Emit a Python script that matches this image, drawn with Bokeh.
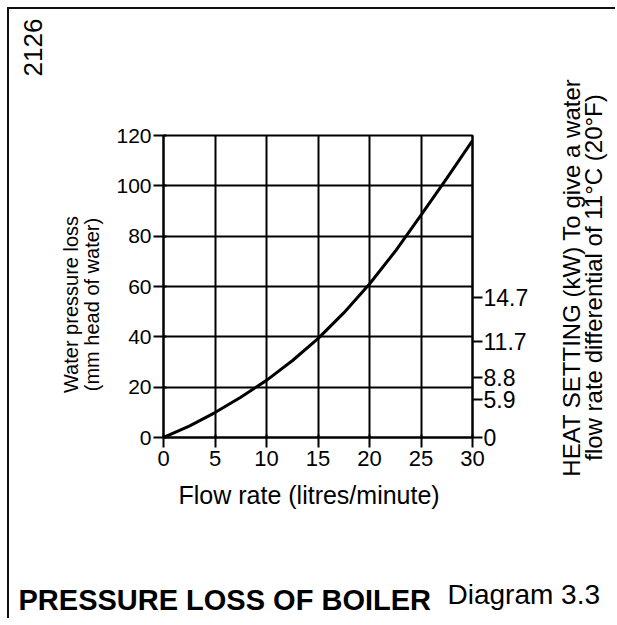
import math
from bokeh.plotting import figure
from bokeh.models import LinearAxis, FixedTicker, Label, Range1d
from bokeh.layouts import row, column
from bokeh.embed import file_html
from bokeh.resources import INLINE

# ---- data ----
flow = [0, 2.5, 5, 7.5, 10, 12.5, 15, 17.5, 20, 22.5, 25, 27.5, 30]
pressure = [0, 4.5, 9.9, 16, 22.7, 30.5, 39.3, 49.5, 61, 74, 88.4, 103, 118]
x_ticks = [0, 5, 10, 15, 20, 25, 30]
y_ticks = [0, 20, 40, 60, 80, 100, 120]
heat_pos = [0, 15, 24, 38.2, 55.5]
heat_labels = ["0", "5.9", "8.8", "11.7", "14.7"]

FONT = "Liberation Sans"

# ---- main chart ----
p = figure(width=430, height=469, x_range=(0, 30), y_range=(0, 120),
           output_backend="svg", toolbar_location=None, frame_align=False,
           min_border_left=53, min_border_right=68,
           min_border_top=126, min_border_bottom=41)
p.background_fill_color = "white"
p.border_fill_color = "white"
p.outline_line_color = "black"
p.outline_line_width = 2

p.xgrid.ticker = FixedTicker(ticks=x_ticks)
p.ygrid.ticker = FixedTicker(ticks=y_ticks)
for g in (p.xgrid, p.ygrid):
    g.grid_line_color = "black"
    g.grid_line_width = 2
    g.grid_line_alpha = 1.0

xa = p.xaxis[0]
xa.ticker = FixedTicker(ticks=x_ticks)
ya = p.yaxis[0]
ya.ticker = FixedTicker(ticks=y_ticks)
for ax in (xa, ya):
    ax.axis_line_color = "black"
    ax.axis_line_width = 2
    ax.major_tick_line_color = "black"
    ax.major_tick_line_width = 2
    ax.major_tick_out = 10
    ax.major_tick_in = 3
    ax.minor_tick_line_color = None
    ax.major_label_text_font = FONT
    ax.major_label_text_color = "black"
xa.major_label_text_font_size = "22px"
ya.major_label_text_font_size = "21px"
xa.major_label_standoff = 3
ya.major_label_standoff = 2

ra = LinearAxis(ticker=FixedTicker(ticks=heat_pos),
                major_label_overrides={v: l for v, l in zip(heat_pos, heat_labels)})
ra.axis_line_color = "black"
ra.axis_line_width = 2
ra.major_tick_line_color = "black"
ra.major_tick_line_width = 2
ra.major_tick_out = 10
ra.major_tick_in = 0
ra.minor_tick_line_color = None
ra.major_label_text_font = FONT
ra.major_label_text_font_size = "23px"
ra.major_label_text_color = "black"
ra.major_label_standoff = 1
p.add_layout(ra, "right")

p.line(flow, pressure, line_width=3, line_color="black")


# ---- text panels around the chart ----
def panel(w, h):
    f = figure(width=w, height=h, x_range=Range1d(0, w), y_range=Range1d(0, h),
               output_backend="svg", toolbar_location=None, frame_align=False,
               x_axis_location=None, y_axis_location=None, min_border=0)
    f.grid.visible = False
    f.outline_line_color = None
    f.background_fill_color = "white"
    f.border_fill_color = "white"
    return f


def lab(f, text, x, y, size, angle=0.0, align="center", baseline="middle", style="normal", lh=1.2):
    f.add_layout(Label(text=text, x=x, y=y, angle=angle, text_align=align,
                       text_baseline=baseline, text_font=FONT, text_font_size=size,
                       text_font_style=style, text_color="black", text_line_height=lh))


left = panel(101, 469)
lab(left, "2126", 23, 431, "26px", angle=math.pi / 2)
lab(left, "Water pressure loss\n(mm head of water)", 72, 174, "20px", angle=math.pi / 2, lh=0.95)

right = panel(75, 469)
lab(right, "HEAT SETTING (kW) To give a water\nflow rate differential of 11°C (20°F)",
    42, 201, "24px", angle=math.pi / 2, lh=0.8)

bottom = panel(606, 140)
lab(bottom, "Flow rate (litres/minute)", 169, 124, "25px", align="left")
lab(bottom, "PRESSURE  LOSS  OF  BOILER", 9, 19, "29px", align="left", style="bold")
lab(bottom, "Diagram 3.3", 438, 24, "28px", align="left")

page = column(row(left, p, right), bottom,
              styles={"margin-left": "7px", "margin-top": "7px",
                      "border-left": "2px solid #111", "border-top": "2px solid #111"})

open("out.html", "w").write(file_html(page, INLINE))
